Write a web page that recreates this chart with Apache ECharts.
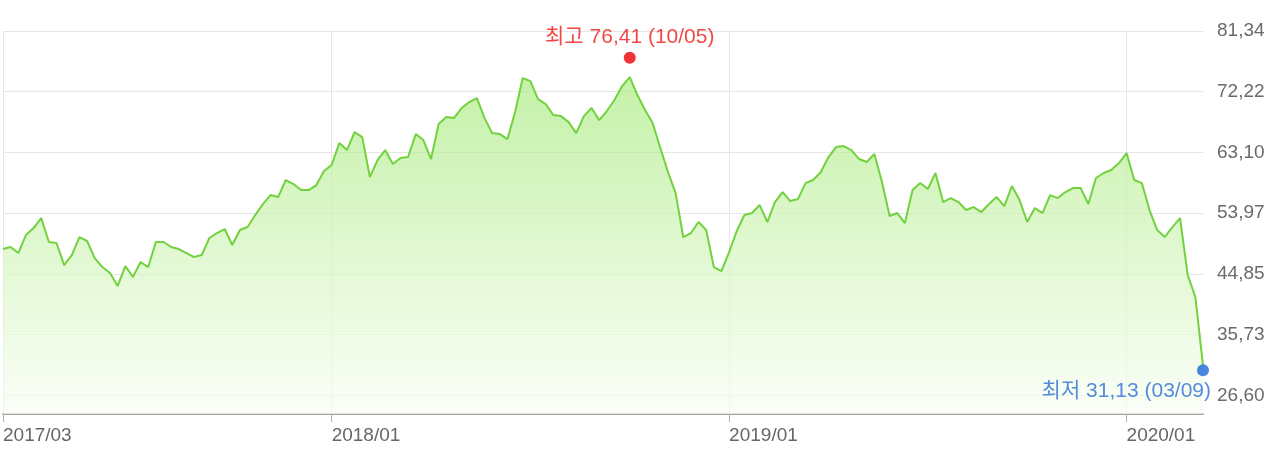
<!DOCTYPE html>
<html>
<head>
<meta charset="utf-8">
<script src="https://cdn.jsdelivr.net/npm/echarts@6/dist/echarts.min.js"></script>
<style>
  html, body { margin: 0; padding: 0; background: #fff; }
  #chart { width: 1280px; height: 463px; }
</style>
</head>
<body>
<div id="chart"></div>
<script>
// weekly closes, last point is the latest day
const dates = [
  '2017-03-10','2017-03-17','2017-03-24','2017-03-31','2017-04-07','2017-04-14','2017-04-21','2017-04-28',
  '2017-05-05','2017-05-12','2017-05-19','2017-05-26','2017-06-02','2017-06-09','2017-06-16','2017-06-23',
  '2017-06-30','2017-07-07','2017-07-14','2017-07-21','2017-07-28','2017-08-04','2017-08-11','2017-08-18',
  '2017-08-25','2017-09-01','2017-09-08','2017-09-15','2017-09-22','2017-09-29','2017-10-06','2017-10-13',
  '2017-10-20','2017-10-27','2017-11-03','2017-11-10','2017-11-17','2017-11-24','2017-12-01','2017-12-08',
  '2017-12-15','2017-12-22','2017-12-29',
  '2018-01-05','2018-01-12','2018-01-19','2018-01-26','2018-02-02','2018-02-09','2018-02-16','2018-02-23',
  '2018-03-02','2018-03-09','2018-03-16','2018-03-23','2018-03-30','2018-04-06','2018-04-13','2018-04-20',
  '2018-04-27','2018-05-04','2018-05-11','2018-05-18','2018-05-25','2018-06-01','2018-06-08','2018-06-15',
  '2018-06-22','2018-06-29','2018-07-06','2018-07-13','2018-07-20','2018-07-27','2018-08-03','2018-08-10',
  '2018-08-17','2018-08-24','2018-08-31','2018-09-07','2018-09-14','2018-09-21','2018-09-28','2018-10-05',
  '2018-10-12','2018-10-19','2018-10-26','2018-11-02','2018-11-09','2018-11-16','2018-11-23','2018-11-30',
  '2018-12-07','2018-12-14','2018-12-21','2018-12-28',
  '2019-01-04','2019-01-11','2019-01-18','2019-01-25','2019-02-01','2019-02-08','2019-02-15','2019-02-22',
  '2019-03-01','2019-03-08','2019-03-15','2019-03-22','2019-03-29','2019-04-05','2019-04-12','2019-04-19',
  '2019-04-26','2019-05-03','2019-05-10','2019-05-17','2019-05-24','2019-05-31','2019-06-07','2019-06-14',
  '2019-06-21','2019-06-28','2019-07-05','2019-07-12','2019-07-19','2019-07-26','2019-08-02','2019-08-09',
  '2019-08-16','2019-08-23','2019-08-30','2019-09-06','2019-09-13','2019-09-20','2019-09-27','2019-10-04',
  '2019-10-11','2019-10-18','2019-10-25','2019-11-01','2019-11-08','2019-11-15','2019-11-22','2019-11-29',
  '2019-12-06','2019-12-13','2019-12-20','2019-12-27',
  '2020-01-03','2020-01-10','2020-01-17','2020-01-24','2020-01-31','2020-02-07','2020-02-14','2020-02-21',
  '2020-02-28','2020-03-06','2020-03-09'
]

const prices = [
  48.59, 48.90, 47.99, 50.70, 51.75, 53.25, 49.65, 49.50, 46.19, 47.69,
  50.40, 49.80, 47.24, 45.89, 44.99, 43.04, 46.04, 44.39, 46.64, 45.89,
  49.65, 49.65, 48.90, 48.59, 47.99, 47.39, 47.69, 50.25, 51.00, 51.60,
  49.20, 51.45, 51.90, 53.70, 55.35, 56.70, 56.40, 58.96, 58.35, 57.45,
  57.45, 58.20, 60.31, 61.21, 64.51, 63.46, 66.16, 65.41, 59.41, 61.96,
  63.46, 61.36, 62.26, 62.41, 65.86, 64.96, 62.11, 67.36, 68.41, 68.26,
  69.77, 70.67, 71.27, 68.26, 66.01, 65.86, 65.11, 69.17, 74.27, 73.82,
  71.12, 70.37, 68.71, 68.56, 67.66, 66.01, 68.56, 69.77, 67.96, 69.32,
  70.97, 73.07, 74.42, 71.72, 69.47, 67.51, 63.76, 60.16, 57.00, 50.40,
  51.00, 52.65, 51.45, 45.89, 45.29, 48.14, 51.30, 53.70, 54.00, 55.20,
  52.65, 55.65, 57.15, 55.80, 56.10, 58.50, 58.96, 60.16, 62.41, 63.91,
  64.06, 63.46, 62.11, 61.66, 62.86, 58.65, 53.55, 54.00, 52.50, 57.45,
  58.50, 57.60, 60.01, 55.65, 56.25, 55.65, 54.45, 54.90, 54.15, 55.35,
  56.40, 55.05, 58.05, 55.95, 52.65, 54.75, 54.00, 56.70, 56.25, 57.15,
  57.75, 57.75, 55.35, 59.26, 60.01, 60.46, 61.51, 63.01, 58.96, 58.50,
  54.45, 51.45, 50.40, 51.90, 53.25, 44.69, 41.39, 31.13
]

const yTicks = [26.60, 35.73, 44.85, 53.97, 63.10, 72.22, 81.34]
const xLabelDates = ['2017-03-10', '2018-01-05', '2019-01-04', '2020-01-03']

const maxPoint = { date: '2018-10-05', value: 76.41, text: '최고 76,41 (10/05)' }
const minPoint = { date: '2020-03-09', value: 31.13, text: '최저 31,13 (03/09)' }

const fontFamily = "'Liberation Sans', 'Noto Sans CJK KR', sans-serif"
const isLabelDate = (idx, val) => xLabelDates.indexOf(val) !== -1
const fmtNum = v => Number(v).toFixed(2).replace('.', ',')

const chart = echarts.init(document.getElementById('chart'), null, { renderer: 'canvas' })

const option = {
  animation: false,
  grid: {
    left: 3,
    right: 77,
    top: 31,
    bottom: 49
  },
  xAxis: {
    type: 'category',
    data: dates,
    boundaryGap: false,
    axisLine: {
      show: true,
      lineStyle: { color: '#a6a6a6', width: 2 }
    },
    axisTick: {
      show: true,
      interval: isLabelDate,
      length: 8,
      lineStyle: { color: '#b0b0b0', width: 1 }
    },
    axisLabel: {
      interval: isLabelDate,
      formatter: d => d.slice(0, 4) + '/' + d.slice(5, 7),
      align: 'left',
      margin: 12,
      color: '#666',
      fontSize: 19,
      fontFamily: fontFamily
    },
    splitLine: {
      show: true,
      interval: isLabelDate,
      lineStyle: { color: '#e6e6e6', width: 1 }
    }
  },
  yAxis: {
    type: 'value',
    position: 'right',
    min: 23.82,
    max: 81.34,
    axisLine: { show: false },
    axisTick: { show: false, customValues: yTicks },
    axisLabel: {
      customValues: yTicks,
      formatter: fmtNum,
      margin: 14,
      color: '#6a6a6a',
      fontSize: 19,
      fontFamily: fontFamily
    },
    splitLine: {
      show: true,
      lineStyle: { color: '#e6e6e6', width: 1 }
    }
  },
  series: [
    {
      name: '종가',
      type: 'line',
      data: prices,
      symbol: 'none',
      smooth: false,
      lineStyle: { color: '#72d23e', width: 2 },
      areaStyle: {
        color: new echarts.graphic.LinearGradient(0, 0, 0, 1, [
          { offset: 0, color: '#abea82' },
          { offset: 0.5, color: '#d2f4bb' },
          { offset: 1, color: '#f8fdf4' }
        ])
      },
      z: 2
    },
    {
      name: '최고',
      type: 'scatter',
      data: [[maxPoint.date, maxPoint.value]],
      symbol: 'circle',
      symbolSize: 12,
      symbolOffset: [0, -6],
      itemStyle: { color: '#f00000' },
      label: {
        show: true,
        position: 'top',
        distance: 4,
        formatter: maxPoint.text,
        color: '#f01818',
        fontSize: 21,
        fontFamily: fontFamily
      },
      z: 5
    },
    {
      name: '최저',
      type: 'scatter',
      data: [[minPoint.date, minPoint.value]],
      symbol: 'circle',
      symbolSize: 12,
      symbolOffset: [0, 5],
      itemStyle: { color: '#1d66d8' },
      label: {
        show: true,
        position: 'bottom',
        distance: 4,
        align: 'right',
        offset: [8, 0],
        formatter: minPoint.text,
        color: '#2c6fd6',
        fontSize: 21,
        fontFamily: fontFamily
      },
      z: 5
    }
  ]
}

chart.setOption(option)
</script>
</body>
</html>
